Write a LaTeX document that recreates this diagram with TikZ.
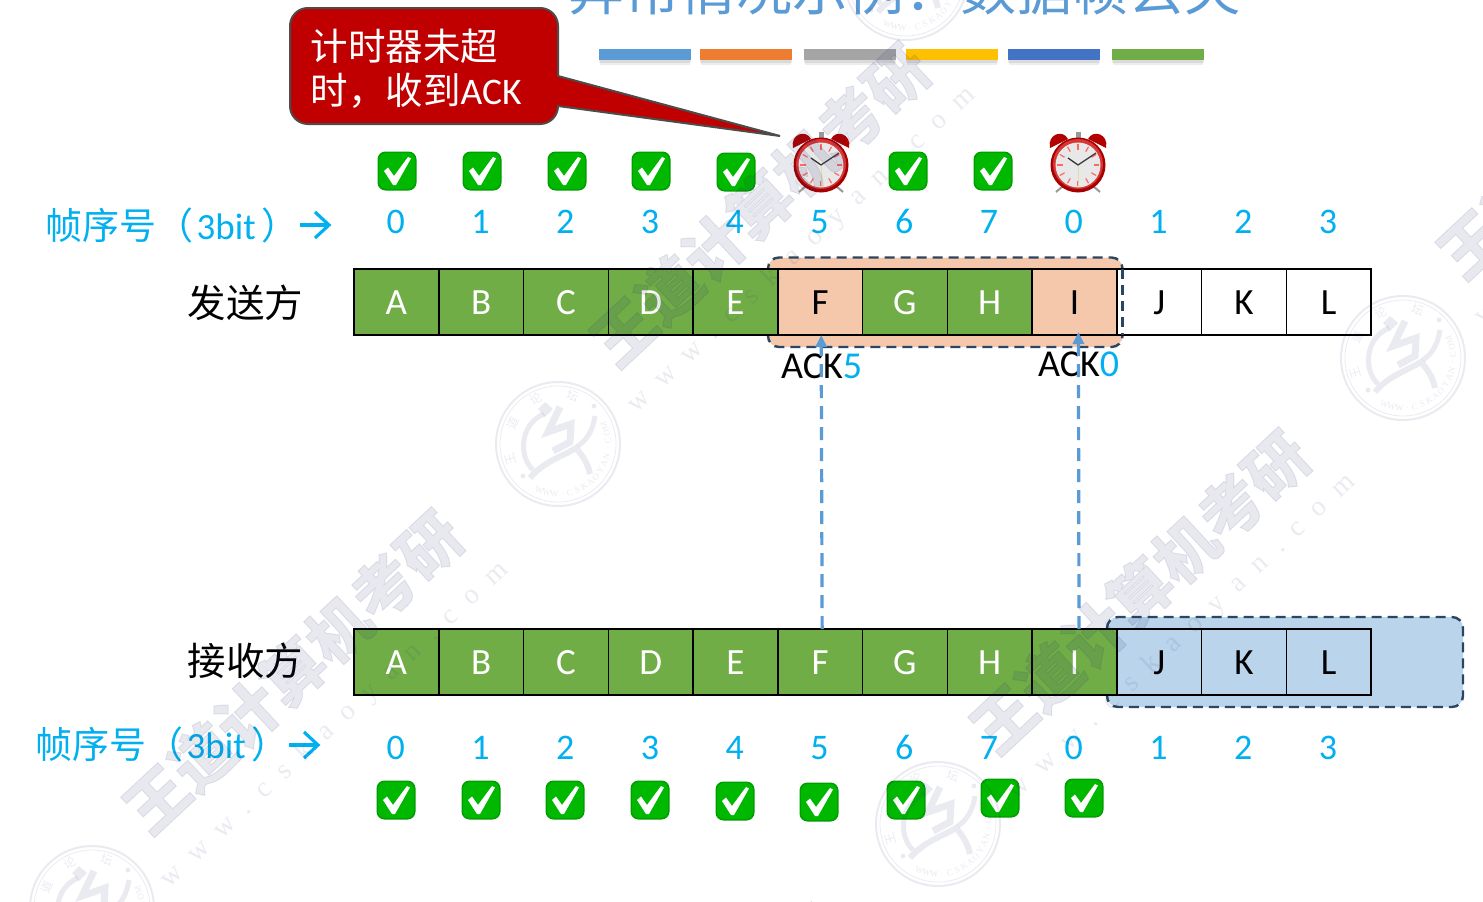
\documentclass[tikz,border=0pt]{standalone}
\usepackage{fontspec}
\usetikzlibrary{arrows.meta,calc}
\setmainfont{Carlito}
\newfontfamily\cjk{Noto Sans CJK SC}
\newfontfamily\cjkheavy[FakeBold=1.5]{Noto Sans CJK SC}
\newfontfamily\wmserif[LetterSpace=57]{Liberation Serif}
\newfontfamily\logoserif{Liberation Serif}
\definecolor{seqblue}{HTML}{00B0F0}
\definecolor{cellgreen}{HTML}{70AD47}
\definecolor{cellorange}{HTML}{F5C8AB}
\definecolor{cellblue}{HTML}{BAD4EB}
\definecolor{dashnavy}{HTML}{2A4662}
\definecolor{acklane}{HTML}{5B9BD5}
\definecolor{calloutred}{HTML}{C00000}
\definecolor{wmink}{HTML}{1F2A6B}
\newcommand{\fsz}[1]{\fontsize{#1}{#1}\selectfont}
\tikzset{
  cell/.style={draw=black,line width=1.5pt,minimum width=84.75pt,minimum height=66pt,
    inner sep=0pt,outer sep=0pt,text height=25.5pt,text depth=0pt,font=\fsz{37}},
  gcell/.style={cell,fill=cellgreen,text=white},
  ocell/.style={cell,fill=cellorange,text=black},
  wcell/.style={cell,fill=white,text=black},
  bcell/.style={cell,fill=cellblue,text=black},
  digit/.style={text=seqblue,anchor=base,inner sep=0pt,font=\fsz{36}},
  seqlabel/.style={text=seqblue,anchor=base west,inner sep=0pt,font=\fsz{37}},
  sidelabel/.style={text=black,inner sep=0pt,font=\cjk\fsz{38.5}},
  win/.style={rounded corners=11pt,draw=dashnavy,line width=2.4pt,dash pattern=on 10pt off 6pt},
  acklabel/.style={anchor=base west,inner sep=0pt,font=\fsz{38}},
  ackline/.style={draw=acklane,line width=3.2pt,dash pattern=on 13pt off 8pt,
    -{Triangle[length=12pt,width=11pt]}},
  seqarrow/.style={draw=seqblue,line width=3.2pt},
  calloutbody/.style={fill=calloutred,draw=black!70,line width=2pt},
  calloutline/.style={text=white,anchor=base west,inner sep=0pt,font=\cjk\fsz{37.5}},
  wmtitle/.style={text=wmink,opacity=.1,rotate=43,inner sep=0pt,font=\cjkheavy\bfseries\fsz{62}},
  wmurl/.style={text=wmink,opacity=.09,rotate=43,inner sep=0pt,font=\wmserif\fsz{28}},
  checkicon/.pic={
    \fill[green!62!black,rounded corners=8pt] (-19.5,-19.5) rectangle (19.5,19.5);
    \fill[green!72!black,rounded corners=7pt] (-18,-18) rectangle (18,18);
    \fill[white] (-13,0) -- (-9,-3.5) -- (-3,5) -- (11,-14) -- (14,-12.5) -- (-1,14) -- (-4,14) -- cycle;
  },
  clockicon/.pic={
    \draw[black!40,line width=2pt] (-15,21) -- (-22,27) (15,21) -- (22,27);
    \fill[red!70!black] (-28,-17) .. controls (-31,-31) and (-15,-36) .. (-10,-26) -- cycle;
    \fill[red!70!black] (28,-17) .. controls (31,-31) and (15,-36) .. (10,-26) -- cycle;
    \fill[black!40] (-2.5,-33) rectangle (2.5,-25);
    \fill[red!65!black] (0,0) circle (27.5);
    \fill[red!75!white!85!black] (0,-1) circle (25);
    \fill[black!9] (0,0) circle (22.5);
    \foreach \a in {0,30,...,330}{
      \draw[red!60!white,line width=1.2pt] (\a:15.5) -- (\a:21);
    }
    \draw[black!35!yellow!40!white,line width=1pt] (0,0) -- (0,21);
    \draw[black!80,line width=1.3pt] (0,0) -- (-10,-7);
    \draw[black!75,line width=1.3pt] (0,0) -- (18,-12);
  },
  logomark/.pic={
    \begin{scope}[opacity=.09,wmink]
      \draw[line width=2pt] (0,0) circle (62);
      \draw[line width=.8pt] (0,0) circle (58);
      \fill (-13,-42) -- (-5,-35) -- (-13,-27) -- (-20,-35) -- cycle;
      \draw[line width=5pt] (-14,-30) .. controls (-38,-20) and (-40,12) .. (-25,26);
      \draw[line width=6pt] (-28,34) .. controls (-15,18) and (5,12) .. (18,4) .. controls (25,12) and (30,20) .. (32,30);
      \draw[line width=5pt] (20,2) .. controls (30,-5) and (35,-15) .. (37,-28);
      \draw[line width=7pt] (2,-37) -- (-10,-12) -- (13,-20) -- (12,-2) -- (-5,7);
      \fill (36,-38) circle (2.5) (-35,32) circle (2.5);
      \foreach \c/\a in {王/-197,道/-155,论/-116,坛/-73}{
        \pgfmathsetmacro\rr{-(\a+90)}
        \node[inner sep=0pt,rotate=\rr,font=\cjk\fsz{12}] at (\a:50) {\c};
      }
      \foreach \c [count=\n] in {W,W,W,.,C,S,K,A,O,Y,A,N,.,C,O,M}{
        \pgfmathsetmacro\aa{112-8.9*(\n-1)}
        \pgfmathsetmacro\rr{90-\aa}
        \node[inner sep=0pt,rotate=\rr,font=\logoserif\fsz{9}] at (\aa:50) {\c};
      }
    \end{scope}
  }
}
\begin{document}
\begin{tikzpicture}[x=1pt,y=-1pt]
\path[use as bounding box,clip] (0,0) rectangle (1483,902);
\fill[white] (0,0) rectangle (1483,902);

% title
\node[anchor=base west,inner sep=0pt,text=acklane,font=\cjk\fsz{56}] (title) at (568,10) {异常情况示例：数据帧丢失};
\foreach \xa/\col in {599/5B9BD5,700/ED7D31,804/A5A5A5,906/FFC000,1008/4472C4,1112/70AD47}{
  \definecolor{barcol}{HTML}{\col}
  \fill[black,opacity=.08] (\xa,51) rectangle ++(92,12);
  \fill[black,opacity=.07] (\xa+1,53) rectangle ++(90,12);
  \fill[barcol] (\xa,49) rectangle ++(92,11);
}

% windows behind the cells
\draw[win,fill=cellorange] (768,257.5) rectangle (1122.5,347);
\draw[win,fill=cellblue] (1107,617) rectangle (1463,707);

% sender cells
\foreach \i/\l/\st in {0/A/gcell,1/B/gcell,2/C/gcell,3/D/gcell,4/E/gcell,5/F/ocell,6/G/gcell,7/H/gcell,8/I/ocell,9/J/wcell,10/K/wcell,11/L/wcell}{
  \pgfmathsetmacro\cx{396.4+84.75*\i}
  \node[\st] (s\i) at (\cx,302) {\l};
}
% receiver cells
\foreach \i/\l/\st in {0/A/gcell,1/B/gcell,2/C/gcell,3/D/gcell,4/E/gcell,5/F/gcell,6/G/gcell,7/H/gcell,8/I/gcell,9/J/bcell,10/K/bcell,11/L/bcell}{
  \pgfmathsetmacro\cx{396.4+84.75*\i}
  \node[\st] (r\i) at (\cx,662) {\l};
}
% dashed edge of the send window, over the J cell
\draw[draw=dashnavy,line width=2.4pt,dash pattern=on 10pt off 6pt] (1122.5,269) -- (1122.5,335);

% sequence numbers
\foreach \i/\d in {0/0,1/1,2/2,3/3,4/4,5/5,6/6,7/7,8/0,9/1,10/2,11/3}{
  \pgfmathsetmacro\cx{395.8+84.75*\i}
  \node[digit] (sd\i) at (\cx,233) {\d};
  \node[digit] (rd\i) at (\cx,759) {\d};
}

% side labels
\node[sidelabel] (sender) at (245.5,303) {发送方};
\node[sidelabel] (receiver) at (245.5,660.5) {接收方};
\node[seqlabel] (sseq) at (45.5,239) {{\cjk 帧序号（}\hspace{3pt}3bit\hspace{6pt}{\cjk ）}};
\node[seqlabel] (rseq) at (35.5,758) {{\cjk 帧序号（}\hspace{3pt}3bit\hspace{6pt}{\cjk ）}};
\coordinate (sa1) at (300,225); \coordinate (sa2) at (329,225);
\coordinate (ra1) at (289,745); \coordinate (ra2) at (318,745);
\draw[seqarrow] (sa1) -- (sa2);
\draw[seqarrow] ($(sa2)+(-14,-13)$) -- (sa2) -- ($(sa2)+(-14,13)$);
\draw[seqarrow] (ra1) -- (ra2);
\draw[seqarrow] ($(ra2)+(-14,-13)$) -- (ra2) -- ($(ra2)+(-14,13)$);

% ACK labels and lines
\node[acklabel] (ack5) at (781,378) {ACK\textcolor{seqblue}{5}};
\node[acklabel] (ack0) at (1038,376) {ACK\textcolor{seqblue}{0}};
\draw[ackline] ($(r5.north)+(2,0)$) -- ($(s5.south)+(1,0)$);
\draw[ackline] ($(r8.north)+(4.6,0)$) -- ($(s8.south)+(4,-3)$);

% icons
\foreach \px/\py in {397/171,482/171,567/171,651/171,736/172,908/171,993/171,
  396/800,481/800,565/800,650/800,735/801,819/802,906/800,1000/798,1084/798}{
  \pic at (\px,\py) {checkicon};
}
\pic at (821,165) {clockicon};
\pic at (1078,165) {clockicon};

% callout
\draw[calloutbody] (308,8) -- (540,8) .. controls (550,8) and (558,16) .. (558,26) -- (558,76)
  -- (780,136) -- (558,106) .. controls (558,116) and (550,124) .. (540,124) -- (308,124)
  .. controls (298,124) and (290,116) .. (290,106) -- (290,26)
  .. controls (290,16) and (298,8) .. (308,8) -- cycle;
\node[calloutline] (call1) at (310.5,60) {计时器未超};
\node[calloutline] (call2) at (310.5,104) {时，收到{\rmfamily ACK}};

% watermarks
\foreach \n/\cxx/\cyy in {a/293/672,b/1140/592,c/760/205,d/1607/117,e/673/1067}{
  \node[wmtitle] (wm\n) at (\cxx,\cyy) {王道计算机考研};
}
\foreach \n/\cxx/\cyy in {a/335/725,b/1182/637,c/802/250,d/1649/162,e/715/1112}{
  \node[wmurl] (url\n) at (\cxx,\cyy) {www.cskaoyan.com};
}
\foreach \lx/\ly in {558/444,1403/358,938/824,92/908,906/-22}{
  \pic at (\lx,\ly) {logomark};
}
\end{tikzpicture}
\end{document}
